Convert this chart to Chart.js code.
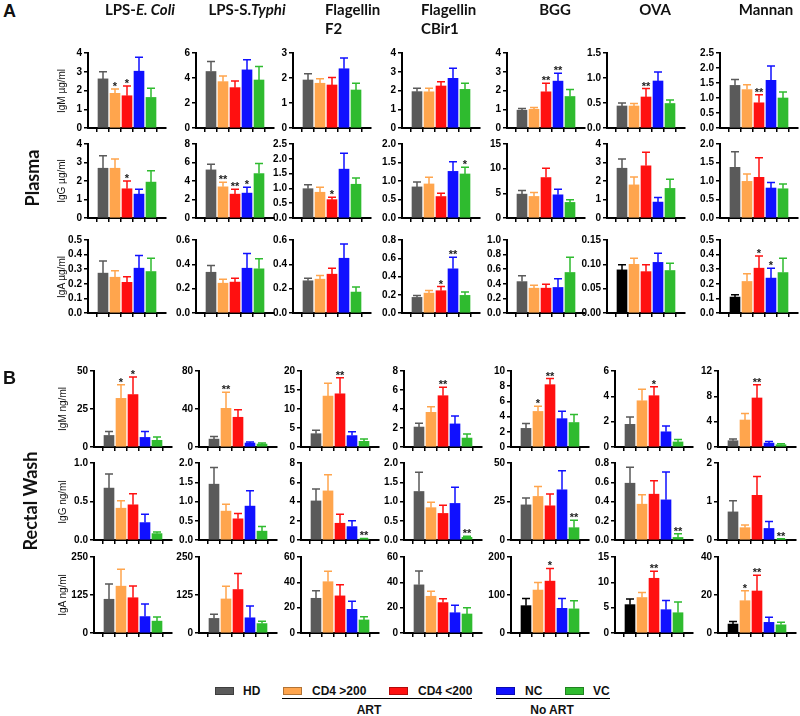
<!DOCTYPE html>
<html>
<head>
<meta charset="utf-8">
<title>Antibody levels in plasma and rectal wash</title>
<script src="https://cdn.jsdelivr.net/npm/chart.js@4.4.1/dist/chart.umd.min.js"></script>
<style>
  body { margin: 0; background: #fff; }
  #fig { position: relative; width: 800px; height: 716px; overflow: hidden; background: #fff; color: #111; font-family: 'Liberation Sans', Arial, sans-serif; }
  #fig canvas { position: absolute; }
  .letter { position: absolute; font-weight: bold; font-size: 18px; line-height: 18px; }
  .hdr { position: absolute; top: 0; font-family: Lato, sans-serif; font-weight: bold; font-size: 15px; line-height: 19px; white-space: nowrap; }
  .hdr.c { width: 120px; text-align: center; }
  .rot { position: absolute; white-space: nowrap; transform: translate(-50%, -50%) rotate(-90deg); }
  .sect { font-family: Lato, sans-serif; font-weight: bold; font-size: 18px; }
  .ytitle { font-size: 10px; }
  .key { position: absolute; top: 687px; width: 19px; height: 8px; border: 1px solid rgba(0,0,0,0.3); box-sizing: border-box; }
  .ktxt { position: absolute; top: 684px; font-weight: bold; font-size: 12px; line-height: 14px; white-space: nowrap; }
  .uline { position: absolute; top: 698px; height: 0; border-top: 1.5px solid #000; }
  .utxt { position: absolute; top: 703px; width: 100px; text-align: center; font-weight: bold; font-size: 12px; line-height: 14px; }
</style>
</head>
<body>
<div id="fig"></div>
<script>
const groups = ['HD', 'CD4 >200', 'CD4 <200', 'NC', 'VC']
const antigenTitles = ['LPS-<i>E. Coli</i>', 'LPS-S.<i>Typhi</i>', 'Flagellin<br>F2', 'Flagellin<br>CBir1', 'BGG', 'OVA', 'Mannan']

// Plasma, µg/ml (one inner array per antigen, values per group)
const plasmaIgM = [
  [2.62, 1.85, 1.72, 3.03, 1.63],
  [4.52, 3.71, 3.23, 4.65, 3.84],
  [1.92, 1.79, 1.72, 2.37, 1.52],
  [1.94, 1.93, 2.24, 2.65, 2.06],
  [0.95, 1.0, 1.93, 2.5, 1.68],
  [0.44, 0.44, 0.62, 0.94, 0.49],
  [1.42, 1.28, 0.84, 1.59, 1.0]
]
const plasmaIgMSem = [
  [0.38, 0.23, 0.52, 0.75, 0.49],
  [0.8, 0.46, 0.53, 0.81, 1.08],
  [0.25, 0.18, 0.3, 0.43, 0.27],
  [0.18, 0.19, 0.23, 0.54, 0.33],
  [0.09, 0.1, 0.46, 0.42, 0.38],
  [0.06, 0.05, 0.17, 0.18, 0.07],
  [0.2, 0.16, 0.27, 0.48, 0.2]
]
const plasmaIgMStars = [['', '*', '*', '', ''], [], [], [], ['', '', '**', '**', ''], ['', '', '**', '', ''], ['', '', '**', '', '']]
const plasmaIgMTicks = [
  ['0', '1', '2', '3', '4'], ['0', '2', '4', '6'], ['0', '1', '2', '3'], ['0', '1', '2', '3', '4'],
  ['0', '1', '2', '3', '4'], ['0.0', '0.5', '1.0', '1.5'], ['0.0', '0.5', '1.0', '1.5', '2.0', '2.5']
]

const plasmaIgG = [
  [2.69, 2.69, 1.58, 1.29, 1.94],
  [5.2, 3.37, 2.58, 2.69, 4.8],
  [0.99, 0.87, 0.62, 1.65, 1.14],
  [0.84, 0.92, 0.58, 1.26, 1.19],
  [4.84, 4.37, 8.2, 4.7, 3.16],
  [2.69, 1.79, 2.82, 0.86, 1.6],
  [1.37, 0.99, 1.1, 0.81, 0.79]
]
const plasmaIgGSem = [
  [0.68, 0.5, 0.42, 0.27, 0.62],
  [0.6, 0.5, 0.54, 0.64, 1.08],
  [0.13, 0.17, 0.08, 0.54, 0.21],
  [0.13, 0.18, 0.09, 0.26, 0.18],
  [0.74, 0.81, 1.9, 1.15, 0.54],
  [0.5, 0.42, 0.73, 0.25, 0.5],
  [0.42, 0.2, 0.53, 0.15, 0.13]
]
const plasmaIgGStars = [['', '', '*', '', ''], ['', '**', '**', '*', ''], ['', '', '*', '', ''], ['', '', '', '', '*'], [], [], []]
const plasmaIgGTicks = [
  ['0', '1', '2', '3', '4'], ['0', '2', '4', '6', '8'], ['0.0', '0.5', '1.0', '1.5', '2.0', '2.5'],
  ['0.0', '0.5', '1.0', '1.5', '2.0'], ['0', '5', '10', '15'], ['0', '1', '2', '3', '4'], ['0.0', '0.5', '1.0', '1.5', '2.0']
]

const plasmaIgA = [
  [0.273, 0.245, 0.21, 0.307, 0.284],
  [0.335, 0.245, 0.254, 0.368, 0.363],
  [0.265, 0.278, 0.319, 0.45, 0.172],
  [0.171, 0.218, 0.244, 0.484, 0.193],
  [0.43, 0.34, 0.34, 0.35, 0.555],
  [0.0886, 0.1, 0.085, 0.104, 0.0873],
  [0.109, 0.216, 0.307, 0.239, 0.277]
]
const plasmaIgASem = [
  [0.084, 0.045, 0.038, 0.086, 0.091],
  [0.055, 0.033, 0.032, 0.122, 0.082],
  [0.021, 0.03, 0.049, 0.117, 0.041],
  [0.022, 0.029, 0.046, 0.126, 0.036],
  [0.08, 0.04, 0.055, 0.12, 0.21],
  [0.0103, 0.0125, 0.014, 0.0187, 0.0147],
  [0.016, 0.052, 0.083, 0.068, 0.098]
]
const plasmaIgAStars = [[], [], [], ['', '', '*', '**', ''], [], [], ['', '', '*', '*', '']]
const plasmaIgATicks = [
  ['0.0', '0.1', '0.2', '0.3', '0.4', '0.5'], ['0.0', '0.2', '0.4', '0.6'], ['0.0', '0.2', '0.4', '0.6'],
  ['0.0', '0.2', '0.4', '0.6', '0.8'], ['0.0', '0.2', '0.4', '0.6', '0.8', '1.0'], ['0.00', '0.05', '0.10', '0.15'],
  ['0.0', '0.1', '0.2', '0.3', '0.4', '0.5']
]

// Rectal wash, ng/ml
const rectalIgM = [
  [7.6, 32, 34.5, 6.3, 4.4],
  [8.3, 40.7, 31.3, 4.2, 3.1],
  [3.5, 13.4, 14, 3.0, 1.5],
  [2.1, 3.65, 5.4, 2.43, 0.94],
  [2.45, 4.68, 8.2, 3.73, 3.22],
  [1.79, 3.65, 4.05, 1.2, 0.4],
  [0.99, 4.26, 7.74, 0.62, 0.36]
]
const rectalIgMSem = [
  [2.6, 9, 11.5, 3.9, 2.1],
  [2.8, 17, 8, 1, 1.1],
  [0.9, 3.4, 4.2, 1.0, 0.6],
  [0.4, 0.6, 0.9, 0.84, 0.42],
  [0.64, 0.68, 0.8, 0.99, 1.07],
  [0.58, 0.9, 0.7, 0.45, 0.19],
  [0.26, 1.04, 2.1, 0.26, 0.14]
]
const rectalIgMStars = [
  ['', '*', '*', '', ''], ['', '**', '', '', ''], ['', '', '**', '', ''], ['', '', '**', '', ''],
  ['', '*', '**', '', ''], ['', '', '*', '', ''], ['', '', '**', '', '']
]
const rectalIgMTicks = [
  ['0', '25', '50'], ['0', '40', '80'], ['0', '5', '10', '15', '20'], ['0', '2', '4', '6', '8'],
  ['0', '2', '4', '6', '8', '10'], ['0', '2', '4', '6'], ['0', '4', '8', '12']
]

const rectalIgG = [
  [0.674, 0.413, 0.457, 0.226, 0.083],
  [1.45, 0.75, 0.55, 0.88, 0.23],
  [4.06, 5.1, 1.74, 1.39, 0.1],
  [1.26, 0.84, 0.69, 0.95, 0.07],
  [22.8, 28.3, 22.2, 32.6, 8.0],
  [0.59, 0.372, 0.476, 0.417, 0.027],
  [0.73, 0.32, 1.16, 0.3, 0.02]
]
const rectalIgGSem = [
  [0.183, 0.096, 0.143, 0.109, 0.021],
  [0.43, 0.18, 0.14, 0.4, 0.12],
  [1.25, 1.67, 0.94, 0.62, 0.06],
  [0.5, 0.14, 0.21, 0.42, 0.03],
  [4.4, 6.5, 7.6, 12.4, 4.8],
  [0.165, 0.098, 0.14, 0.289, 0.038],
  [0.29, 0.07, 0.49, 0.18, 0.01]
]
const rectalIgGStars = [[], [], ['', '', '', '', '**'], ['', '', '', '', '**'], ['', '', '', '', '**'], ['', '', '', '', '**'], ['', '', '', '', '**']]
const rectalIgGTicks = [
  ['0.0', '0.5', '1.0'], ['0.0', '0.5', '1.0', '1.5', '2.0'], ['0', '2', '4', '6', '8'],
  ['0.0', '0.5', '1.0', '1.5', '2.0'], ['0', '25', '50'], ['0.0', '0.2', '0.4', '0.6', '0.8'], ['0', '1', '2']
]

const rectalIgA = [
  [111, 154, 116, 54, 39],
  [48, 112, 143, 50, 31],
  [27.4, 40.5, 29.3, 18.7, 10.3],
  [38, 29, 24, 16, 15],
  [72, 113, 136.5, 65, 63.5],
  [5.6, 7.0, 10.8, 4.6, 4.0],
  [4.7, 17, 22.1, 5.6, 4.3]
]
const rectalIgASem = [
  [50, 56, 39, 41, 13.5],
  [13.4, 42, 53, 39, 8],
  [5.9, 8.3, 8.8, 6.4, 2.5],
  [11, 4, 3, 6, 5],
  [19, 20, 33.5, 26, 21.5],
  [1.1, 1.0, 1.4, 1.8, 2.1],
  [1.4, 5.3, 8.3, 2.7, 1.3]
]
const rectalIgAStars = [[], [], [], [], ['', '', '*', '', ''], ['', '', '**', '', ''], ['', '*', '**', '', '']]
const rectalIgATicks = [
  ['0', '125', '250'], ['0', '125', '250'], ['0', '20', '40', '60'], ['0', '20', '40', '60'],
  ['0', '100', '200'], ['0', '5', '10', '15'], ['0', '20', '40']
]

// styling / layout
const groupColors = ['#5a5a5a', '#ffa54d', '#ff1010', '#1010ff', '#2fbb2f']
const blackHD = [[2, 5], [2, 6], [5, 4], [5, 5], [5, 6]]
const axisXA = [88, 196, 293, 402, 507, 607, 720]
const axisXB = [94, 199, 301, 404, 511, 615, 718]
const rowY = [[53, 128], [144, 218], [240, 313], [371, 447], [463, 540], [557, 633]]
const yAxisW = 32
const plotW = 78
const padT = 8
const padB = 3
const padR = 4
const xAxisH = 5

const rows = [
  [plasmaIgM, plasmaIgMSem, plasmaIgMStars, plasmaIgMTicks, 'IgM µg/ml'],
  [plasmaIgG, plasmaIgGSem, plasmaIgGStars, plasmaIgGTicks, 'IgG µg/ml'],
  [plasmaIgA, plasmaIgASem, plasmaIgAStars, plasmaIgATicks, 'IgA µg/ml'],
  [rectalIgM, rectalIgMSem, rectalIgMStars, rectalIgMTicks, 'IgM ng/ml'],
  [rectalIgG, rectalIgGSem, rectalIgGStars, rectalIgGTicks, 'IgG ng/ml'],
  [rectalIgA, rectalIgASem, rectalIgAStars, rectalIgATicks, 'IgA ng/ml']
]

const fig = document.getElementById('fig')
Chart.defaults.font.family = "'Liberation Sans', Arial, sans-serif"

// upward error bars (mean + SEM) and significance stars
const errorBars = {
  id: 'errorBars',
  afterDatasetsDraw(chart) {
    const ds = chart.data.datasets[0]
    const yScale = chart.scales.y
    const ctx = chart.ctx
    ctx.save()
    chart.getDatasetMeta(0).data.forEach((bar, i) => {
      const yTop = yScale.getPixelForValue(ds.data[i].y + ds.sem[i])
      ctx.strokeStyle = ds.backgroundColor[i]
      ctx.lineWidth = 1.5
      ctx.beginPath()
      ctx.moveTo(bar.x, bar.y)
      ctx.lineTo(bar.x, yTop)
      ctx.moveTo(bar.x - 4, yTop)
      ctx.lineTo(bar.x + 4, yTop)
      ctx.stroke()
      if (ds.stars[i]) {
        ctx.fillStyle = '#222'
        ctx.font = "bold 11px 'Liberation Sans'"
        ctx.textAlign = 'center'
        ctx.textBaseline = 'alphabetic'
        ctx.fillText(ds.stars[i], bar.x, yTop + 1)
      }
    })
    ctx.restore()
  }
}

function addText(cls, html, style) {
  const el = document.createElement('div')
  el.className = cls
  el.innerHTML = html
  Object.assign(el.style, style)
  fig.appendChild(el)
  return el
}

function makeChart(r, c) {
  const [means, sems, stars, ticks] = rows[r]
  const labels = ticks[c]
  const vals = labels.map(parseFloat)
  const [top, bottom] = rowY[r]
  const axisX = (r < 3 ? axisXA : axisXB)[c]
  const isBlack = blackHD.some(p => p[0] === r && p[1] === c)
  const colors = groupColors.slice()
  if (isBlack) colors[0] = '#000'

  const cv = document.createElement('canvas')
  cv.width = yAxisW + plotW + padR
  cv.height = padT + (bottom - top) + xAxisH + padB
  cv.style.left = (axisX - yAxisW) + 'px'
  cv.style.top = (top - padT) + 'px'
  fig.appendChild(cv)

  const axisLook = {
    grid: { drawOnChartArea: false, tickLength: 4, color: '#000', lineWidth: 1.5 },
    border: { color: '#000', width: 2 }
  }

  new Chart(cv, {
    type: 'bar',
    data: {
      datasets: [{
        data: means[c].map((v, i) => ({ x: i, y: v })),
        sem: sems[c],
        stars: stars[c] || [],
        backgroundColor: colors,
        borderWidth: 0,
        barThickness: 10
      }]
    },
    options: {
      responsive: false,
      animation: false,
      events: [],
      devicePixelRatio: 1,
      layout: { padding: { top: padT, bottom: padB, left: 0, right: padR } },
      plugins: { legend: { display: false }, tooltip: { enabled: false } },
      scales: {
        x: {
          type: 'linear',
          bounds: 'data',
          min: -0.6,
          max: 4.6,
          afterBuildTicks: s => { s.ticks = groups.map((g, i) => ({ value: i })) },
          afterFit: s => { s.height = xAxisH },
          ticks: { display: false },
          ...axisLook
        },
        y: {
          min: 0,
          max: vals[vals.length - 1],
          afterBuildTicks: s => { s.ticks = vals.map(v => ({ value: v })) },
          afterFit: s => { s.width = yAxisW },
          ticks: {
            autoSkip: false,
            padding: 2,
            color: '#000',
            font: { size: 10, weight: 'bold' },
            callback: (v, i) => labels[i]
          },
          ...axisLook
        }
      }
    },
    plugins: [errorBars]
  })
}

for (let r = 0; r < rows.length; r++) {
  for (let c = 0; c < 7; c++) makeChart(r, c)
  const [top, bottom] = rowY[r]
  addText('rot ytitle', rows[r][4], { left: (r < 3 ? 61 : 62) + 'px', top: ((top + bottom) / 2) + 'px' })
}

// panel letters, column heads, section labels
addText('letter', 'A', { left: '3px', top: '2px' })
addText('letter', 'B', { left: '3px', top: '369px' })

const titleX = [140, 247, 325, 421, 555, 655, 766]
antigenTitles.forEach((t, i) => {
  const twoLines = t.includes('<br>')
  addText(twoLines ? 'hdr' : 'hdr c', t, { left: (twoLines ? titleX[i] : titleX[i] - 60) + 'px' })
})

addText('rot sect', 'Plasma', { left: '32px', top: '178px' })
addText('rot sect', 'Rectal Wash', { left: '30px', top: '501px' })

// legend
const keyX = [215, 283, 389, 496, 565]
const keyTextX = [243, 312, 418, 525, 593]
groups.forEach((g, i) => {
  addText('key', '', { left: keyX[i] + 'px', background: groupColors[i] })
  addText('ktxt', g.replace('<', '&lt;').replace('>', '&gt;'), { left: keyTextX[i] + 'px' })
})
addText('uline', '', { left: '282px', width: '190px' })
addText('uline', '', { left: '496px', width: '114px' })
addText('utxt', 'ART', { left: '319px' })
addText('utxt', 'No ART', { left: '502px' })
</script>
</body>
</html>
